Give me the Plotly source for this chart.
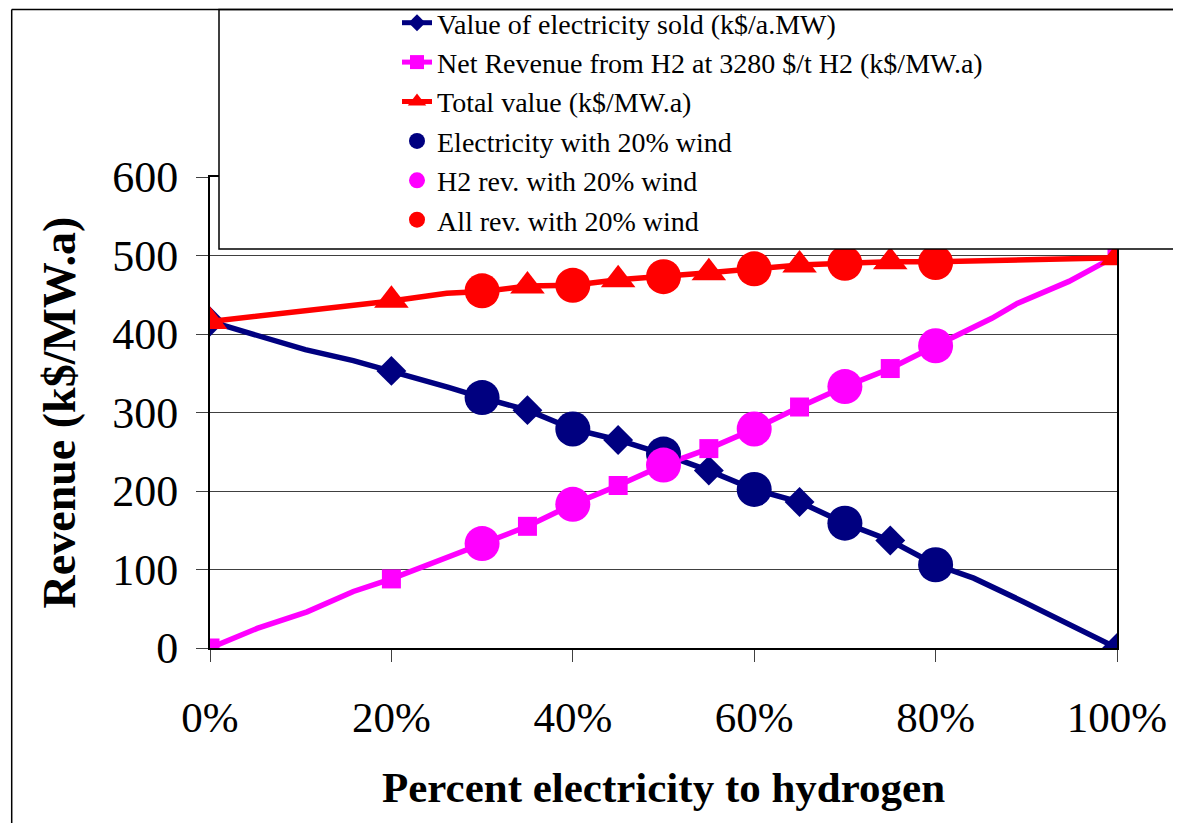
import plotly.graph_objects as go

# ---------------- data ----------------
elec_line_x = [0, 0.0526, 0.105, 0.158, 0.20, 0.263, 0.30, 0.35, 0.40, 0.45, 0.50,
               0.55, 0.60, 0.65, 0.70, 0.75, 0.80, 0.842, 0.895, 0.947, 1.0]
elec_line_y = [416, 398, 380, 366, 353, 332, 319, 303, 279, 265, 247,
               226, 202, 186, 159, 137, 106, 89, 60, 30, 0]

h2_line_x = [0, 0.052, 0.107, 0.158, 0.20, 0.263, 0.30, 0.35, 0.40, 0.45, 0.50,
             0.55, 0.60, 0.65, 0.70, 0.75, 0.80, 0.862, 0.89, 0.947, 1.0]
h2_line_y = [0, 25, 46, 72, 88, 116, 133, 155, 183, 207, 233,
             254, 279, 307, 333, 356, 385, 420, 439, 467, 500]

total_line_x = [0, 0.20, 0.261, 0.30, 0.35, 0.40, 0.45, 0.50, 0.55, 0.60,
                0.65, 0.70, 0.75, 0.80, 0.886, 1.0]
total_line_y = [416, 442, 452, 454, 461, 462, 469, 473, 478, 483,
                488, 490, 492, 492, 494, 497]

marker_x = [0, 0.20, 0.35, 0.45, 0.55, 0.65, 0.75, 1.0]
elec_markers = [416, 353, 303, 265, 226, 186, 137, 0]
h2_markers = [0, 88, 155, 207, 254, 307, 356, 500]
total_markers = [416, 443, 461, 469, 478, 488, 492, 497]

wind_x = [0.30, 0.40, 0.50, 0.60, 0.70, 0.80]
elec_wind = [319, 279, 247, 202, 159, 106]
h2_wind = [133, 183, 233, 279, 333, 385]
all_wind = [455, 462, 473, 483, 490, 491]

names = [
    "Value of electricity sold (k$/a.MW)",
    "Net Revenue from H2 at 3280 $/t H2 (k$/MW.a)",
    "Total value (k$/MW.a)",
    "Electricity with 20% wind",
    "H2 rev. with 20% wind",
    "All rev. with 20% wind",
]
x_ticks = [0, 0.2, 0.4, 0.6, 0.8, 1.0]
x_tick_text = ["0%", "20%", "40%", "60%", "80%", "100%"]
y_ticks = [0, 100, 200, 300, 400, 500, 600]

# ---------------- styles ----------------
NAVY = "#000080"
MAGENTA = "#FF00FF"
RED = "#FF0000"
FONT = "Liberation Serif, Times New Roman, serif"

OFF = 8                      # page body margin
W, H = 1181 - OFF, 823 - OFF
# plot area in reference-page pixels
L, R, T, B = 210, 1117, 177, 648


def px_x(p):
    return (p - L) / (R - L)


def px_y(p):
    return (B - p) / (B - T)


fig = go.Figure()

# data lines + markers
fig.add_trace(go.Scatter(x=elec_line_x, y=elec_line_y, mode="lines",
                         line=dict(color=NAVY, width=5.5), showlegend=False, hoverinfo="skip"))
fig.add_trace(go.Scatter(x=marker_x, y=elec_markers, mode="markers",
                         marker=dict(symbol="diamond", size=23, color=NAVY), showlegend=False))
fig.add_trace(go.Scatter(x=h2_line_x, y=h2_line_y, mode="lines",
                         line=dict(color=MAGENTA, width=5.5), showlegend=False, hoverinfo="skip"))
fig.add_trace(go.Scatter(x=marker_x, y=h2_markers, mode="markers",
                         marker=dict(symbol="square", size=19, color=MAGENTA), showlegend=False))
fig.add_trace(go.Scatter(x=total_line_x, y=total_line_y, mode="lines",
                         line=dict(color=RED, width=5.5), showlegend=False, hoverinfo="skip"))
fig.add_trace(go.Scatter(x=marker_x, y=total_markers, mode="markers",
                         marker=dict(symbol="triangle-up", size=30, color=RED), showlegend=False))
fig.add_trace(go.Scatter(x=wind_x, y=elec_wind, mode="markers",
                         marker=dict(symbol="circle", size=35, color=NAVY), showlegend=False))
fig.add_trace(go.Scatter(x=wind_x, y=h2_wind, mode="markers",
                         marker=dict(symbol="circle", size=35, color=MAGENTA), showlegend=False))
fig.add_trace(go.Scatter(x=wind_x, y=all_wind, mode="markers",
                         marker=dict(symbol="circle", size=35, color=RED), showlegend=False))

# legend entries
legend_specs = [
    ("lines+markers", NAVY, "diamond", 13),
    ("lines+markers", MAGENTA, "square", 14),
    ("lines+markers", RED, "triangle-up", 16),
    ("markers", NAVY, "circle", 16),
    ("markers", MAGENTA, "circle", 16),
    ("markers", RED, "circle", 16),
]
for i, (mode, col, sym, sz) in enumerate(legend_specs):
    fig.add_trace(go.Scatter(x=[None], y=[None], mode=mode, name=names[i],
                             line=dict(color=col, width=5),
                             marker=dict(symbol=sym, size=sz, color=col)))

TOP_LINE = 9.5   # page pixel of the chart's top border

fig.update_layout(
    width=W, height=H,
    margin=dict(l=L - OFF, r=W - (R - OFF), t=T - OFF, b=H - (B - OFF), autoexpand=False),
    paper_bgcolor="white", plot_bgcolor="white",
    font=dict(family=FONT, color="black"),
    showlegend=True,
    legend=dict(x=px_x(397), y=px_y(-2), xanchor="left", yanchor="top",
                bgcolor="rgba(0,0,0,0)", borderwidth=0,
                font=dict(family=FONT, size=28, color="black"),
                traceorder="normal"),
    xaxis=dict(range=[0, 1], tickvals=x_ticks, ticktext=x_tick_text,
               showgrid=False, zeroline=False,
               showline=True, linecolor="black", linewidth=2, mirror=True,
               ticks="outside", ticklen=12, tickcolor="#404040", tickwidth=1,
               ticklabelstandoff=18,
               tickfont=dict(family=FONT, size=43, color="black"),
               title=dict(text="<b>Percent electricity to hydrogen</b>",
                          font=dict(family=FONT, size=43, color="black"),
                          standoff=32)),
    yaxis=dict(range=[0, 600], tickvals=y_ticks,
               showgrid=True, gridcolor="#404040", gridwidth=1, zeroline=False,
               showline=True, linecolor="black", linewidth=2, mirror=True,
               ticks="outside", ticklen=12, tickcolor="#404040", tickwidth=1,
               ticklabelstandoff=9,
               tickfont=dict(family=FONT, size=44, color="black"),
               title=dict(text="<b>Revenue (k$/MW.a)</b>",
                          font=dict(family=FONT, size=46, color="black"),
                          standoff=22)),
    shapes=[
        # legend box
        dict(type="rect", xref="paper", yref="paper",
             x0=px_x(219), x1=px_x(1200), y0=px_y(249), y1=px_y(TOP_LINE),
             fillcolor="white", line=dict(color="black", width=1.5), layer="above"),
        # outer chart border (left and top)
        dict(type="line", xref="paper", yref="paper",
             x0=px_x(11.7), x1=px_x(11.7), y0=px_y(TOP_LINE), y1=px_y(830),
             line=dict(color="black", width=1.5)),
        dict(type="line", xref="paper", yref="paper",
             x0=px_x(11.7), x1=px_x(1200), y0=px_y(TOP_LINE), y1=px_y(TOP_LINE),
             line=dict(color="black", width=1.5)),
    ],
)

fig.write_html("out.html")
